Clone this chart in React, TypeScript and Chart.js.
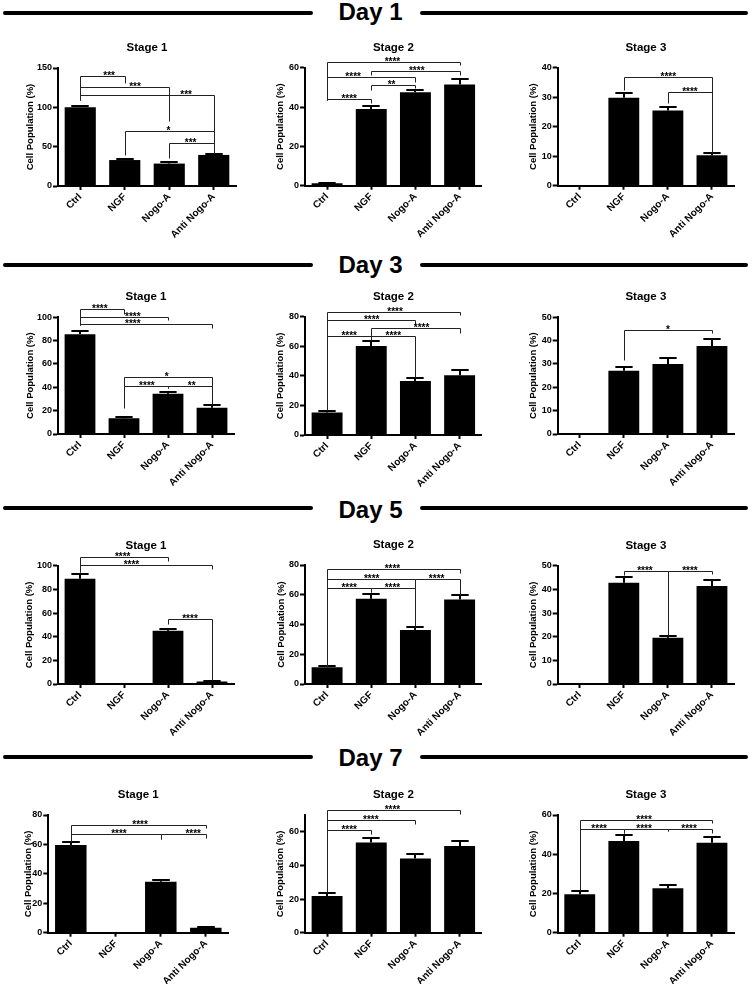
import React, { useEffect, useRef } from "react";
import { Chart, registerables } from "chart.js";

Chart.register(...registerables);

const FONT = '"Liberation Sans", Arial, Helvetica, sans-serif';

// ---------- data ----------
const categories = ["Ctrl", "NGF", "Nogo-A", "Anti Nogo-A"];
const dayTitles = ["Day 1", "Day 3", "Day 5", "Day 7"];
const stageTitles = ["Stage 1", "Stage 2", "Stage 3"];
const yAxisTitle = "Cell Population (%)";

// y axis max / step per [day][stage]
const yMaxes = [
  [150, 60, 40],
  [100, 80, 50],
  [100, 80, 50],
  [80, 70, 60],
];
const ySteps = [
  [50, 20, 10],
  [20, 20, 10],
  [20, 20, 10],
  [20, 20, 20],
];

// means and SEM
const day1Stage1Mean = [100, 33, 28.5, 39.5];
const day1Stage1Sem = [2.2, 1.5, 1.8, 1.8];
const day1Stage2Mean = [1.2, 39, 47.5, 51.5];
const day1Stage2Sem = [0.3, 1.5, 1.4, 2.7];
const day1Stage3Mean = [0, 29.8, 25.5, 10.3];
const day1Stage3Sem = [0, 1.7, 1.2, 0.9];

const day3Stage1Mean = [85.5, 13.5, 34.5, 22.5];
const day3Stage1Sem = [2.8, 0.8, 1.8, 2.2];
const day3Stage2Mean = [15.2, 60.2, 36.5, 40.4];
const day3Stage2Sem = [1.1, 3.6, 1.8, 3.6];
const day3Stage3Mean = [0, 27.1, 30, 37.7];
const day3Stage3Sem = [0, 1.5, 2.7, 3];

const day5Stage1Mean = [89, 0, 45, 2.2];
const day5Stage1Sem = [3.8, 0, 1.9, 0.3];
const day5Stage2Mean = [11.2, 57.3, 36.3, 56.8];
const day5Stage2Sem = [1.1, 3.3, 1.8, 2.9];
const day5Stage3Mean = [0, 42.8, 19.6, 41.4];
const day5Stage3Sem = [0, 2.6, 0.8, 2.6];

const day7Stage1Mean = [59.6, 0, 34.6, 3.3];
const day7Stage1Sem = [2.3, 0, 1.5, 0.3];
const day7Stage2Mean = [21.8, 53.6, 44.2, 51.5];
const day7Stage2Sem = [1.9, 3, 2.7, 3.3];
const day7Stage3Mean = [19.6, 46.8, 22.6, 45.9];
const day7Stage3Sem = [1.7, 3.2, 1.5, 3];

// significance brackets: [fromIdx, toIdx, level, fromLegEnd, toLegEnd, label, labelAt]
type Bracket = [number, number, number, number, number, string, number];

const day1Stage1Sig: Bracket[] = [
  [0, 1, 140, 109, 130.5, "***", 0.65],
  [0, 2, 125.4, 109, 83, "***", 1.23],
  [0, 3, 115.7, 109, 41.5, "***", 2.38],
  [1, 3, 70, 39.4, 55, "*", 1.98],
  [2, 3, 55, 35, 41.5, "***", 2.48],
];
const day1Stage2Sig: Bracket[] = [
  [0, 3, 63, 43.5, 61.4, "****", 1.48],
  [1, 3, 58.5, 56.3, 56.3, "****", 2.03],
  [0, 2, 55.1, 43.5, 52.9, "****", 0.59],
  [1, 2, 51.2, 48.7, 49.5, "**", 1.46],
  [0, 1, 43.9, 43.5, 41.9, "****", 0.5],
];
const day1Stage3Sig: Bracket[] = [
  [1, 3, 37, 32.4, 11.5, "****", 2.01],
  [2, 3, 31.9, 27.9, 11.5, "****", 2.5],
];

const day3Stage1Sig: Bracket[] = [
  [0, 1, 106.9, 93, 102.8, "****", 0.45],
  [0, 2, 100.5, 93, 97.7, "****", 1.2],
  [0, 3, 94, 93, 90.6, "****", 1.2],
  [1, 3, 49.1, 41.4, 41.4, "*", 1.97],
  [1, 2, 41.4, 22, 39.1, "****", 1.52],
  [2, 3, 41.4, 39.1, 24.9, "**", 2.54],
];
const day3Stage2Sig: Bracket[] = [
  [0, 3, 83.4, 16.9, 81.1, "****", 1.54],
  [0, 2, 77.8, 16.9, 75, "****", 1.01],
  [1, 3, 72.1, 64.5, 69.2, "****", 2.14],
  [0, 1, 66.9, 16.9, 64.5, "****", 0.5],
  [1, 2, 66.9, 64.5, 39, "****", 1.5],
];
const day3Stage3Sig: Bracket[] = [[1, 3, 44.6, 31.7, 43.1, "*", 2.0]];

const day5Stage1Sig: Bracket[] = [
  [0, 2, 107, 95, 104, "****", 0.97],
  [0, 3, 100.6, 95, 97.2, "****", 1.17],
  [2, 3, 55, 50.7, 3.4, "****", 2.5],
];
const day5Stage2Sig: Bracket[] = [
  [0, 3, 77.1, 11.6, 74.4, "****", 1.48],
  [0, 2, 70.6, 11.6, 64.3, "****", 1.01],
  [2, 3, 70.6, 64.3, 59.8, "****", 2.48],
  [0, 1, 64.3, 11.6, 62, "****", 0.5],
  [1, 2, 64.3, 62, 37.8, "****", 1.48],
];
const day5Stage3Sig: Bracket[] = [
  [1, 2, 47.8, 46, 20.5, "****", 1.48],
  [2, 3, 47.8, 20.5, 46.3, "****", 2.5],
];

const day7Stage1Sig: Bracket[] = [
  [0, 3, 73.2, 62.3, 71, "****", 1.54],
  [0, 2, 66.9, 62.3, 63.7, "****", 1.07],
  [2, 3, 66.9, 63.7, 64.4, "****", 2.72],
];
const day7Stage2Sig: Bracket[] = [
  [0, 3, 72.8, 24.4, 70.3, "****", 1.48],
  [0, 2, 67.3, 24.4, 64.9, "****", 0.99],
  [0, 1, 61, 24.4, 58.6, "****", 0.5],
];
const day7Stage3Sig: Bracket[] = [
  [0, 3, 57.4, 21.8, 55.8, "****", 1.46],
  [0, 1, 52.7, 21.8, 51, "****", 0.44],
  [1, 2, 52.7, 51, 51.7, "****", 1.46],
  [2, 3, 52.7, 51.7, 50.7, "****", 2.48],
];

const means = [
  [day1Stage1Mean, day1Stage2Mean, day1Stage3Mean],
  [day3Stage1Mean, day3Stage2Mean, day3Stage3Mean],
  [day5Stage1Mean, day5Stage2Mean, day5Stage3Mean],
  [day7Stage1Mean, day7Stage2Mean, day7Stage3Mean],
];
const sems = [
  [day1Stage1Sem, day1Stage2Sem, day1Stage3Sem],
  [day3Stage1Sem, day3Stage2Sem, day3Stage3Sem],
  [day5Stage1Sem, day5Stage2Sem, day5Stage3Sem],
  [day7Stage1Sem, day7Stage2Sem, day7Stage3Sem],
];
const sigs = [
  [day1Stage1Sig, day1Stage2Sig, day1Stage3Sig],
  [day3Stage1Sig, day3Stage2Sig, day3Stage3Sig],
  [day5Stage1Sig, day5Stage2Sig, day5Stage3Sig],
  [day7Stage1Sig, day7Stage2Sig, day7Stage3Sig],
];

// ---------- layout (pixels) ----------
const colBase = [0, 250, 500];
// [axisX, rightX, topY, zeroY, yTitleX]
const geometry = [
  [[58, 236, 68, 186, 30], [305, 481.7, 67.7, 185.7, 280], [557.7, 734, 67.7, 185.7, 533]],
  [[58, 234, 317.3, 434, 30], [305, 481.7, 316.7, 435, 280], [557.7, 734, 317.3, 434, 533]],
  [[58, 234, 565.7, 684, 29.5], [305, 481.7, 565, 684, 281], [557.7, 734, 565.7, 684, 533]],
  [[48.3, 228.3, 815, 932.7, 28.3], [305, 481.7, 815, 932.7, 280], [557.7, 734, 815, 932.7, 533]],
];
const headerLineY = [13.3, 265, 508.3, 756.7];
const headerBaseline = [20.7, 273.3, 518.3, 766.7];

const TITLE_SIZE = 11.5;
const TITLE_LINE = TITLE_SIZE * 1.2;
const TITLE_PAD_BOTTOM = 20 + TITLE_LINE / 2 - TITLE_LINE;
const TITLE_BLOCK = TITLE_LINE + TITLE_PAD_BOTTOM;
const YTITLE_SIZE = 9.5;

function makeOverlay(mean: number[], sem: number[], brackets: Bracket[]) {
  return {
    id: "overlay",
    afterDatasetsDraw(chart: any) {
      const ctx = chart.ctx as CanvasRenderingContext2D;
      const xs = chart.scales.x;
      const ys = chart.scales.y;
      const meta = chart.getDatasetMeta(0);
      ctx.save();
      // error bars
      ctx.strokeStyle = "#000";
      ctx.lineWidth = 2;
      meta.data.forEach((bar: any, i: number) => {
        const e = sem[i];
        if (!e) return;
        const cx = Math.round(bar.x);
        const yb = ys.getPixelForValue(mean[i]);
        const yt = Math.round(ys.getPixelForValue(mean[i] + e));
        const hw = bar.width * 0.28;
        ctx.beginPath();
        ctx.moveTo(cx, yb);
        ctx.lineTo(cx, yt);
        ctx.moveTo(cx - hw, yt);
        ctx.lineTo(cx + hw, yt);
        ctx.stroke();
      });
      // brackets
      ctx.lineWidth = 1;
      ctx.strokeStyle = "#222";
      ctx.fillStyle = "#000";
      ctx.font = `bold 10px ${FONT}`;
      ctx.textAlign = "center";
      ctx.textBaseline = "alphabetic";
      const sx = (v: number) => Math.round(xs.getPixelForValue(v)) + 0.5;
      const sy = (v: number) => Math.round(ys.getPixelForValue(v)) + 0.5;
      for (const [a, b, lvl, ea, eb, label, at] of brackets) {
        const xa = sx(a);
        const xb = sx(b);
        const yl = sy(lvl);
        ctx.beginPath();
        ctx.moveTo(xa, sy(ea));
        ctx.lineTo(xa, yl);
        ctx.lineTo(xb, yl);
        ctx.lineTo(xb, sy(eb));
        ctx.stroke();
        ctx.fillText(label, xs.getPixelForValue(at), yl + 2);
      }
      ctx.restore();
    },
  };
}

function Panel({ r, c }: { r: number; c: number }) {
  const ref = useRef<HTMLCanvasElement>(null);
  const [axisX, rightX, topY, zeroY, yTitleX] = geometry[r][c];
  const base = colBase[c];
  const canvasTop = Math.floor(topY - TITLE_BLOCK - 4);
  const padTop = topY - TITLE_BLOCK - canvasTop;
  const canvasH = Math.ceil(zeroY - canvasTop + 54);
  const xH = canvasH - (zeroY - canvasTop);
  const canvasW = Math.ceil(rightX - base + 6);
  const padRight = canvasW - (rightX - base);
  const yW = axisX - base;

  useEffect(() => {
    const mean = means[r][c];
    const sem = sems[r][c];
    const step = ySteps[r][c];
    const chart = new Chart(ref.current as HTMLCanvasElement, {
      type: "bar",
      data: {
        labels: categories,
        datasets: [
          {
            data: mean,
            backgroundColor: "#000",
            borderWidth: 0,
            barPercentage: 0.7,
            categoryPercentage: 1,
          },
        ],
      },
      options: {
        animation: false,
        responsive: false,
        events: [],
        layout: { padding: { top: padTop, left: 0, right: padRight, bottom: 0 } },
        plugins: {
          legend: { display: false },
          tooltip: { enabled: false },
          title: {
            display: true,
            text: stageTitles[c],
            fullSize: false,
            color: "#000",
            font: { family: FONT, size: TITLE_SIZE, weight: "bold", lineHeight: 1.2 },
            padding: { top: 0, bottom: TITLE_PAD_BOTTOM },
          },
        },
        scales: {
          x: {
            type: "category",
            offset: true,
            grid: {
              display: true,
              drawOnChartArea: false,
              offset: false,
              tickLength: 4,
              tickWidth: 2,
              tickColor: "#000",
            },
            border: { display: true, color: "#000", width: 2 },
            ticks: {
              color: "#000",
              autoSkip: false,
              maxRotation: 45,
              minRotation: 45,
              padding: 1,
              font: { family: FONT, size: 10, weight: "bold" },
            },
            afterFit: (s: any) => {
              s.height = xH;
            },
          },
          y: {
            type: "linear",
            min: 0,
            max: yMaxes[r][c],
            grid: {
              display: true,
              drawOnChartArea: false,
              tickLength: 5,
              tickWidth: 2,
              tickColor: "#000",
            },
            border: { display: true, color: "#000", width: 2 },
            ticks: {
              stepSize: step,
              color: "#000",
              padding: 1,
              font: { family: FONT, size: 9, weight: "bold" },
            },
            title: {
              display: true,
              text: yAxisTitle,
              color: "#000",
              font: { family: FONT, size: YTITLE_SIZE, weight: "bold", lineHeight: 1.2 },
              padding: { top: yTitleX - base - (YTITLE_SIZE * 1.2) / 2, bottom: 0 },
            },
            afterBuildTicks: (s: any) => {
              s.ticks = s.ticks.filter((t: any) => Math.abs(t.value % step) < 1e-9);
            },
            afterFit: (s: any) => {
              s.width = yW;
            },
          },
        },
      } as any,
      plugins: [makeOverlay(mean, sem, sigs[r][c])],
    });
    return () => chart.destroy();
  }, [r, c]);

  return (
    <canvas
      ref={ref}
      width={canvasW}
      height={canvasH}
      style={{ position: "absolute", left: base, top: canvasTop, width: canvasW, height: canvasH }}
    />
  );
}

export default function App() {
  return (
    <div
      style={{
        position: "absolute",
        left: 0,
        top: 0,
        width: 752,
        height: 984,
        background: "#fff",
        overflow: "hidden",
        fontFamily: FONT,
      }}
    >
      {dayTitles.map((d, r) => (
        <React.Fragment key={d}>
          <div
            style={{
              position: "absolute",
              left: 3,
              top: headerLineY[r] - 2,
              width: 310,
              height: 4,
              background: "#000",
              borderRadius: 2,
            }}
          />
          <div
            style={{
              position: "absolute",
              left: 420,
              top: headerLineY[r] - 2,
              width: 328,
              height: 4,
              background: "#000",
              borderRadius: 2,
            }}
          />
          <div
            style={{
              position: "absolute",
              left: 0,
              width: 741,
              top: headerBaseline[r] - 20.3,
              textAlign: "center",
              font: `bold 24px/24px ${FONT}`,
              color: "#000",
              whiteSpace: "nowrap",
            }}
          >
            {d}
          </div>
        </React.Fragment>
      ))}
      {dayTitles.map((_, r) =>
        stageTitles.map((_s, c) => <Panel key={`${r}-${c}`} r={r} c={c} />)
      )}
    </div>
  );
}
